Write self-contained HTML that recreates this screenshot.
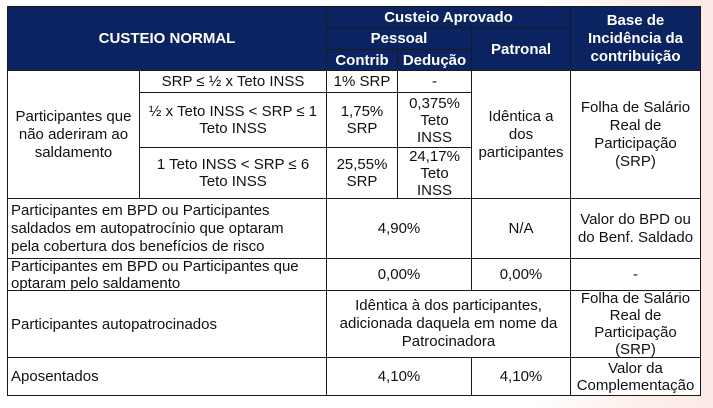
<!DOCTYPE html>
<html><head><meta charset="utf-8"><style>
body{margin:0;width:713px;height:408px;background:linear-gradient(90deg,#fff 0%,#fff 75%,#fcefea 90%,#fbeae6 100%);position:relative;overflow:hidden;font-family:"Liberation Sans",Arial,sans-serif;}
.c{position:absolute;box-sizing:border-box;border:1px solid #1a1a1a;display:flex;align-items:center;justify-content:center;text-align:center;font-size:15px;line-height:17px;color:#111;background:#fff;white-space:nowrap;}
.h{background:#0b2461;color:#fff;font-weight:bold;font-size:15px;border-color:#1a1a1a;}
.l{justify-content:flex-start;text-align:left;padding-left:3px;}
</style></head><body>
<div class="c h" style="left:7px;top:6px;width:320px;height:65px">CUSTEIO NORMAL</div>
<div class="c h" style="left:326px;top:6px;width:245px;height:22px">Custeio Aprovado</div>
<div class="c h" style="left:326px;top:27px;width:146px;height:23px">Pessoal</div>
<div class="c h" style="left:326px;top:49px;width:72px;height:22px">Contrib</div>
<div class="c h" style="left:397px;top:49px;width:75px;height:22px">Dedução</div>
<div class="c h" style="left:471px;top:27px;width:100px;height:44px">Patronal</div>
<div class="c h" style="left:570px;top:6px;width:131px;height:65px;line-height:18px">Base de<br>Incidência da<br>contribuição</div>

<div class="c" style="left:7px;top:70px;width:133px;height:129px;line-height:18px">Participantes que<br>não aderiram ao<br>saldamento</div>
<div class="c" style="left:139px;top:70px;width:188px;height:23px">SRP ≤ ½ x Teto INSS</div>
<div class="c" style="left:139px;top:92px;width:188px;height:56px">½ x Teto INSS &lt; SRP ≤ 1<br>Teto INSS</div>
<div class="c" style="left:139px;top:147px;width:188px;height:52px">1 Teto INSS &lt; SRP ≤ 6<br>Teto INSS</div>
<div class="c" style="left:326px;top:70px;width:72px;height:23px">1% SRP</div>
<div class="c" style="left:397px;top:70px;width:75px;height:23px">-</div>
<div class="c" style="left:326px;top:92px;width:72px;height:56px">1,75%<br>SRP</div>
<div class="c" style="left:397px;top:92px;width:75px;height:56px">0,375%<br>Teto<br>INSS</div>
<div class="c" style="left:326px;top:147px;width:72px;height:52px">25,55%<br>SRP</div>
<div class="c" style="left:397px;top:147px;width:75px;height:52px">24,17%<br>Teto<br>INSS</div>
<div class="c" style="left:471px;top:70px;width:100px;height:129px;line-height:18px">Idêntica a<br>dos<br>participantes</div>
<div class="c" style="left:570px;top:70px;width:131px;height:129px;line-height:18px">Folha de Salário<br>Real de<br>Participação<br>(SRP)</div>

<div class="c l" style="left:7px;top:198px;width:320px;height:61px;line-height:18px">Participantes em BPD ou Participantes<br>saldados em autopatrocínio que optaram<br>pela cobertura dos benefícios de risco</div>
<div class="c" style="left:326px;top:198px;width:146px;height:61px">4,90%</div>
<div class="c" style="left:471px;top:198px;width:100px;height:61px">N/A</div>
<div class="c" style="left:570px;top:198px;width:131px;height:61px;line-height:18px">Valor do BPD ou<br>do Benf. Saldado</div>

<div class="c l" style="left:7px;top:258px;width:320px;height:33px">Participantes em BPD ou Participantes que<br>optaram pelo saldamento</div>
<div class="c" style="left:326px;top:258px;width:146px;height:33px">0,00%</div>
<div class="c" style="left:471px;top:258px;width:100px;height:33px">0,00%</div>
<div class="c" style="left:570px;top:258px;width:131px;height:33px">-</div>

<div class="c l" style="left:7px;top:290px;width:320px;height:68px">Participantes autopatrocinados</div>
<div class="c" style="left:326px;top:290px;width:245px;height:68px;line-height:18px">Idêntica à dos participantes,<br>adicionada daquela em nome da<br>Patrocinadora</div>
<div class="c" style="left:570px;top:290px;width:131px;height:68px">Folha de Salário<br>Real de<br>Participação<br>(SRP)</div>

<div class="c l" style="left:7px;top:357px;width:320px;height:39px">Aposentados</div>
<div class="c" style="left:326px;top:357px;width:146px;height:39px">4,10%</div>
<div class="c" style="left:471px;top:357px;width:100px;height:39px">4,10%</div>
<div class="c" style="left:570px;top:357px;width:131px;height:39px">Valor da<br>Complementação</div>
</body></html>
